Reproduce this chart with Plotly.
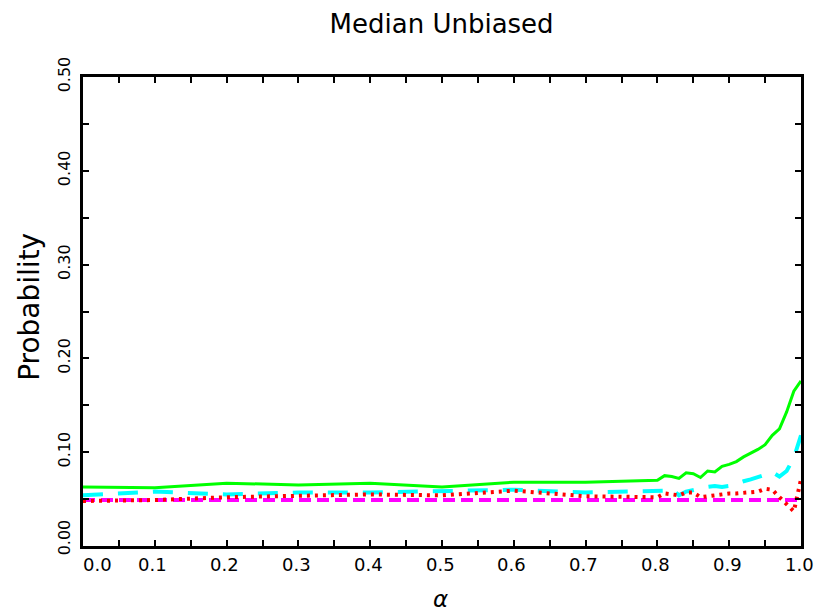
import plotly.graph_objects as go

alpha = [0.0, 0.1, 0.2, 0.3, 0.4, 0.5, 0.6, 0.7, 0.8,
         0.81, 0.82, 0.83, 0.84, 0.85, 0.86, 0.87, 0.88, 0.89, 0.90,
         0.91, 0.92, 0.93, 0.94, 0.95, 0.96, 0.97, 0.98, 0.99, 1.00]

green = [0.063, 0.062, 0.067, 0.065, 0.067, 0.063, 0.068, 0.068, 0.070,
         0.075, 0.074, 0.072, 0.078, 0.077, 0.073, 0.080, 0.079, 0.085, 0.087,
         0.090, 0.095, 0.099, 0.103, 0.108, 0.118, 0.125, 0.143, 0.165, 0.176]

cyan = [0.054, 0.058, 0.055, 0.057, 0.057, 0.059, 0.060, 0.057, 0.058,
        0.059, 0.061, 0.054, 0.058, 0.060, 0.061, 0.063, 0.064, 0.063, 0.064,
        0.067, 0.069, 0.071, 0.073, 0.076, 0.079, 0.074, 0.080, 0.094, 0.118]

red = [0.048, 0.049, 0.052, 0.054, 0.055, 0.054, 0.059, 0.053, 0.052,
       0.056, 0.055, 0.054, 0.057, 0.057, 0.052, 0.053, 0.054, 0.056, 0.056,
       0.056, 0.057, 0.057, 0.058, 0.061, 0.060, 0.052, 0.044, 0.037, 0.071]

magenta = [0.049, 0.049, 0.049, 0.049, 0.049, 0.049, 0.049, 0.049, 0.049,
           0.049, 0.049, 0.049, 0.049, 0.049, 0.049, 0.049, 0.049, 0.049, 0.049,
           0.049, 0.049, 0.049, 0.049, 0.049, 0.049, 0.049, 0.049, 0.049, 0.049]

x_ticks = [0.0, 0.1, 0.2, 0.3, 0.4, 0.5, 0.6, 0.7, 0.8, 0.9, 1.0]
x_labels = ["0.0", "0.1", "0.2", "0.3", "0.4", "0.5", "0.6", "0.7", "0.8", "0.9", "1.0"]
y_ticks = [0.0, 0.1, 0.2, 0.3, 0.4, 0.5]
y_labels = ["0.00", "0.10", "0.20", "0.30", "0.40", "0.50"]

FONT = "DejaVu Sans"

fig = go.Figure()
fig.add_trace(go.Scatter(x=alpha, y=magenta, mode="lines",
                         line=dict(color="#ff00ff", width=4, dash="12px,6px")))
fig.add_trace(go.Scatter(x=alpha, y=cyan, mode="lines",
                         line=dict(color="#00ffff", width=4, dash="20px,15px")))
fig.add_trace(go.Scatter(x=alpha, y=green, mode="lines",
                         line=dict(color="#00ff00", width=3)))
fig.add_trace(go.Scatter(x=alpha, y=red, mode="lines",
                         line=dict(color="#ff0000", width=4, dash="3px,5px")))

axis_common = dict(
    showline=True, linecolor="black", linewidth=3, mirror="ticks",
    ticks="inside", ticklen=6, tickwidth=1.5, tickcolor="black",
    showgrid=False, zeroline=False, showticklabels=False,
    minor=dict(ticks="inside", ticklen=6, tickwidth=1.5, tickcolor="black"),
)

fig.update_xaxes(range=[0, 1], tickvals=x_ticks, **axis_common)
fig.update_xaxes(minor_dtick=0.05)
fig.update_yaxes(range=[0, 0.5], tickvals=y_ticks, **axis_common)
fig.update_yaxes(minor_dtick=0.05)

annotations = []
for i, (v, t) in enumerate(zip(x_ticks, x_labels)):
    annotations.append(dict(x=v, y=-0.0405, xref="x", yref="paper", text=t,
                            showarrow=False, xanchor="center", yanchor="middle",
                            xshift=(14 if i == 0 else -2),
                            font=dict(family=FONT, size=18, color="black")))
for i, (v, t) in enumerate(zip(y_ticks, y_labels)):
    annotations.append(dict(x=-0.026, y=v, xref="paper", yref="y", text=t,
                            showarrow=False, xanchor="center", yanchor="middle",
                            textangle=-90, yshift=(9 if i == 0 else 3),
                            font=dict(family=FONT, size=16, color="black")))
annotations.append(dict(x=-0.0738, y=0.51, xref="paper", yref="paper", text="Probability",
                        showarrow=False, textangle=-90, xanchor="center", yanchor="middle",
                        font=dict(family=FONT, size=28, color="black")))
annotations.append(dict(x=0.4986, y=-0.113, xref="paper", yref="paper", text="<i>α</i>",
                        showarrow=False, xanchor="center", yanchor="middle",
                        font=dict(family=FONT, size=23, color="black")))

fig.update_layout(
    width=817, height=615,
    margin=dict(l=83, r=16, t=77, b=69),
    paper_bgcolor="white", plot_bgcolor="white",
    showlegend=False,
    title=dict(text="Median Unbiased", x=0.5405, xanchor="center",
               y=1 - 24 / 615, yanchor="middle", yref="container",
               font=dict(family=FONT, size=26, color="black")),
    annotations=annotations,
)

fig.write_html("out.html")
